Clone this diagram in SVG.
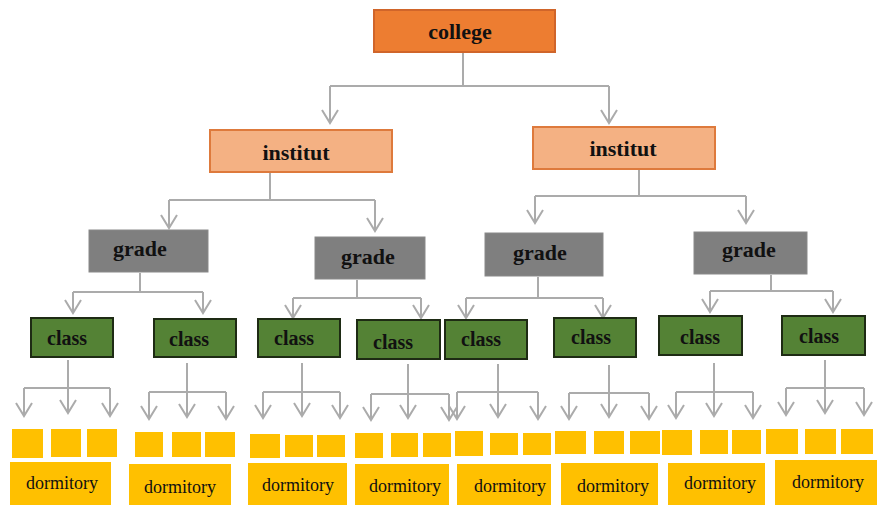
<svg xmlns="http://www.w3.org/2000/svg" width="877" height="505" viewBox="0 0 877 505">
<style>
.bt{font-family:"Liberation Serif","Times New Roman",serif;font-weight:bold;fill:#111;text-anchor:middle}
.big{font-size:22px}
.cls{font-size:20px}
.dt{font-family:"Liberation Serif","Times New Roman",serif;font-size:18px;fill:#111;text-anchor:middle}
.conn path{fill:none;stroke:#ABABAB;stroke-width:2;marker-end:url(#ah)}
.conn path.nm{marker-end:none}
.college{fill:#ED7D31;stroke:#D0652A;stroke-width:2}
.inst{fill:#F4B183;stroke:#DE7A3C;stroke-width:2}
.grade{fill:#7F7F7F;stroke:#8A8A8A;stroke-width:1}
.class{fill:#548235;stroke:#1E2B14;stroke-width:2}
.y{fill:#FFC000}
</style>
<defs>
<marker id="ah" markerUnits="userSpaceOnUse" orient="auto" refX="13" refY="0" markerWidth="20" markerHeight="20" overflow="visible">
<path d="M0,-8 L13,0 L0,8" fill="none" stroke="#ABABAB" stroke-width="2"/>
</marker>
</defs>
<rect width="877" height="505" fill="#fff"/>

<g class="conn" id="connectors">
<path class="nm" d="M463,53 V86 M330,86 H609"/>
<path d="M330,86 V123"/><path d="M609,86 V123"/>
<path class="nm" d="M270,173 V200 M169,200 H375"/>
<path d="M169,200 V228"/><path d="M375,200 V231"/>
<path class="nm" d="M639,170 V196 M535,196 H746"/>
<path d="M535,196 V223"/><path d="M746,196 V223"/>
<path class="nm" d="M140,273 V292 M73,292 H203"/>
<path d="M73,292 V313"/><path d="M203,292 V313"/>
<path class="nm" d="M357,280 V298 M293,298 H421"/>
<path d="M293,298 V318"/><path d="M421,298 V318"/>
<path class="nm" d="M538,277 V298 M466,298 H603"/>
<path d="M466,298 V318"/><path d="M603,298 V318"/>
<path class="nm" d="M771,275 V291 M710,291 H833"/>
<path d="M710,291 V312"/><path d="M833,291 V312"/>

<path class="nm" d="M24,388 H110"/><path d="M68,360 V413"/><path d="M24,388 V416"/><path d="M110,388 V416"/>
<path class="nm" d="M149,392 H226"/><path d="M187,363 V417"/><path d="M149,392 V419"/><path d="M226,392 V419"/>
<path class="nm" d="M263,392 H340"/><path d="M302,363 V416"/><path d="M263,392 V418"/><path d="M340,392 V418"/>
<path class="nm" d="M371,394 H449"/><path d="M408,364 V418"/><path d="M371,394 V420"/><path d="M449,394 V420"/>
<path class="nm" d="M457,392 H538"/><path d="M498,364 V417"/><path d="M457,392 V419"/><path d="M538,392 V419"/>
<path class="nm" d="M569,393 H649"/><path d="M609,365 V417"/><path d="M569,393 V419"/><path d="M649,393 V419"/>
<path class="nm" d="M676,392 H753"/><path d="M714,363 V416"/><path d="M676,392 V418"/><path d="M753,392 V418"/>
<path class="nm" d="M786,388 H864"/><path d="M825,360 V413"/><path d="M786,388 V415"/><path d="M864,388 V415"/>
</g>

<g id="college"><rect class="college" x="374" y="10" width="181" height="42"/><text class="bt big" x="460" y="39">college</text></g>
<g id="institut1"><rect class="inst" x="210" y="130" width="182" height="42"/><text class="bt big" x="296" y="160">institut</text></g>
<g id="institut2"><rect class="inst" x="533" y="127" width="182" height="42"/><text class="bt big" x="623" y="156">institut</text></g>

<g id="grade1"><rect class="grade" x="89" y="230" width="119" height="42"/><text class="bt big" x="140" y="256">grade</text></g>
<g id="grade2"><rect class="grade" x="315" y="237" width="110" height="42"/><text class="bt big" x="368" y="264">grade</text></g>
<g id="grade3"><rect class="grade" x="485" y="233" width="118" height="43"/><text class="bt big" x="540" y="260">grade</text></g>
<g id="grade4"><rect class="grade" x="694" y="232" width="113" height="42"/><text class="bt big" x="749" y="257">grade</text></g>

<g id="class1"><rect class="class" x="31" y="318" width="82" height="39"/><text class="bt cls" x="67" y="345">class</text></g>
<g id="class2"><rect class="class" x="154" y="319" width="82" height="38"/><text class="bt cls" x="189" y="346">class</text></g>
<g id="class3"><rect class="class" x="258" y="319" width="82" height="38"/><text class="bt cls" x="294" y="345">class</text></g>
<g id="class4"><rect class="class" x="357" y="320" width="83" height="39"/><text class="bt cls" x="393" y="349">class</text></g>
<g id="class5"><rect class="class" x="445" y="320" width="82" height="39"/><text class="bt cls" x="481" y="346">class</text></g>
<g id="class6"><rect class="class" x="554" y="318" width="82" height="39"/><text class="bt cls" x="591" y="344">class</text></g>
<g id="class7"><rect class="class" x="659" y="316" width="83" height="39"/><text class="bt cls" x="700" y="344">class</text></g>
<g id="class8"><rect class="class" x="782" y="316" width="83" height="39"/><text class="bt cls" x="819" y="343">class</text></g>

<g id="rooms1"><rect class="y" x="12" y="429" width="31" height="29"/><rect class="y" x="51" y="429" width="30" height="28"/><rect class="y" x="87" y="429" width="30" height="28"/></g>
<g id="rooms2"><rect class="y" x="135" y="432" width="28" height="25"/><rect class="y" x="172" y="432" width="29" height="25"/><rect class="y" x="205" y="432" width="30" height="25"/></g>
<g id="rooms3"><rect class="y" x="250" y="434" width="30" height="24"/><rect class="y" x="285" y="435" width="28" height="22"/><rect class="y" x="317" y="435" width="28" height="22"/></g>
<g id="rooms4"><rect class="y" x="355" y="433" width="28" height="25"/><rect class="y" x="391" y="433" width="27" height="24"/><rect class="y" x="423" y="433" width="28" height="24"/></g>
<g id="rooms5"><rect class="y" x="455" y="431" width="28" height="25"/><rect class="y" x="490" y="433" width="28" height="22"/><rect class="y" x="523" y="433" width="28" height="22"/></g>
<g id="rooms6"><rect class="y" x="555" y="431" width="31" height="23"/><rect class="y" x="594" y="431" width="30" height="23"/><rect class="y" x="630" y="431" width="30" height="23"/></g>
<g id="rooms7"><rect class="y" x="662" y="430" width="30" height="25"/><rect class="y" x="700" y="430" width="28" height="24"/><rect class="y" x="732" y="430" width="29" height="24"/></g>
<g id="rooms8"><rect class="y" x="766" y="429" width="32" height="25"/><rect class="y" x="805" y="429" width="31" height="25"/><rect class="y" x="841" y="429" width="32" height="25"/></g>

<g id="dorm1"><rect class="y" x="10" y="462" width="101" height="43"/><text class="dt" x="62" y="489">dormitory</text></g>
<g id="dorm2"><rect class="y" x="129" y="464" width="102" height="41"/><text class="dt" x="180" y="493">dormitory</text></g>
<g id="dorm3"><rect class="y" x="248" y="463" width="99" height="42"/><text class="dt" x="298" y="491">dormitory</text></g>
<g id="dorm4"><rect class="y" x="355" y="464" width="94" height="41"/><text class="dt" x="405" y="492">dormitory</text></g>
<g id="dorm5"><rect class="y" x="457" y="464" width="94" height="41"/><text class="dt" x="510" y="492">dormitory</text></g>
<g id="dorm6"><rect class="y" x="561" y="463" width="97" height="42"/><text class="dt" x="613" y="492">dormitory</text></g>
<g id="dorm7"><rect class="y" x="668" y="463" width="97" height="42"/><text class="dt" x="720" y="489">dormitory</text></g>
<g id="dorm8"><rect class="y" x="775" y="460" width="102" height="45"/><text class="dt" x="828" y="488">dormitory</text></g>
</svg>
